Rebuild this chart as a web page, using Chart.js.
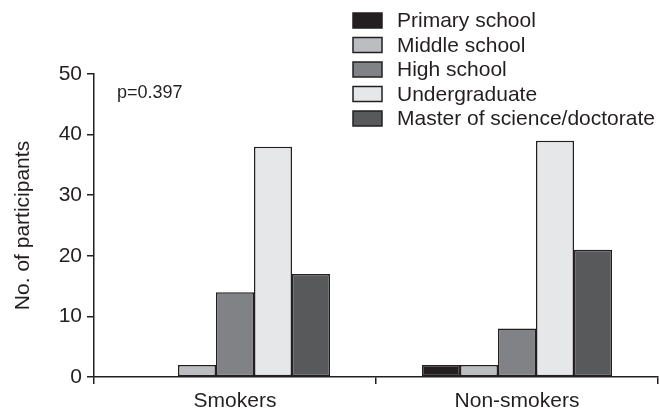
<!DOCTYPE html>
<html>
<head>
<meta charset="utf-8">
<script src="https://cdn.jsdelivr.net/npm/chart.js@4/dist/chart.umd.min.js"></script>
<style>
  html, body { margin: 0; padding: 0; background: #fff; }
  #wrap { width: 659px; height: 409px; }
</style>
</head>
<body>
<div id="wrap"><canvas id="c" width="659" height="409"></canvas></div>
<script>
const groups = ['Smokers', 'Non-smokers'];
const levels = ['Primary school', 'Middle school', 'High school', 'Undergraduate', 'Master of science/doctorate'];
const primarySchool = [0, 2];
const middleSchool = [2, 2];
const highSchool = [14, 8];
const undergraduate = [38, 39];
const masterDoctorate = [17, 21];
const yTicks = [0, 10, 20, 30, 40, 50];
const pLabel = 'p=0.397';

const fills = ['#231f20', '#bcbdc0', '#808285', '#e6e7e8', '#58595b'];
const ink = '#231f20';
const FONT = '"Liberation Sans", Arial, Helvetica, sans-serif';
const series = [primarySchool, middleSchool, highSchool, undergraduate, masterDoctorate];

// Legend drawn in the upper right corner, overlapping the plot area
const cornerLegend = {
  id: 'cornerLegend',
  afterDraw(chart) {
    const ctx = chart.ctx;
    ctx.save();
    ctx.font = '21px ' + FONT;
    ctx.textBaseline = 'middle';
    chart.data.datasets.forEach((ds, i) => {
      const cy = 20.5 + i * 24.5;
      ctx.fillStyle = ds.backgroundColor;
      ctx.fillRect(353, cy - 7.5, 29, 15);
      ctx.strokeStyle = ink;
      ctx.lineWidth = 1.5;
      ctx.strokeRect(353, cy - 7.5, 29, 15);
      ctx.fillStyle = ink;
      ctx.fillText(ds.label, 397, cy + 1);
    });
    // significance note
    ctx.font = '18px ' + FONT;
    ctx.fillText(pLabel, 117, 93);
    ctx.restore();
  }
};

new Chart(document.getElementById('c'), {
  type: 'bar',
  data: {
    labels: groups,
    datasets: levels.map((lv, i) => ({
      label: lv,
      data: series[i],
      backgroundColor: fills[i],
      borderColor: ink,
      borderWidth: 1.5,
      borderSkipped: false,
      barPercentage: 1.0,
      categoryPercentage: 0.674
    }))
  },
  options: {
    responsive: false,
    animation: false,
    devicePixelRatio: 1,
    layout: { padding: { top: 74, right: 1, left: 0, bottom: 0 } },
    plugins: {
      legend: { display: false },
      tooltip: { enabled: false }
    },
    scales: {
      x: {
        afterFit(scale) { scale.height = 32; },
        grid: { display: true, drawOnChartArea: false, drawTicks: true, tickLength: 7, color: ink, lineWidth: 1.5, offset: true },
        border: { display: true, color: ink, width: 1.5 },
        ticks: { color: ink, font: { family: FONT, size: 21 }, padding: 5 }
      },
      y: {
        min: 0,
        max: 50,
        afterFit(scale) { scale.width = 94; },
        afterBuildTicks(scale) { scale.ticks = yTicks.map(v => ({ value: v })); },
        grid: { display: true, drawOnChartArea: false, drawTicks: true, tickLength: 7, color: ink, lineWidth: 1.5 },
        border: { display: true, color: ink, width: 1.5 },
        ticks: { color: ink, font: { family: FONT, size: 21 }, padding: 5 },
        title: { display: true, text: 'No. of participants', color: ink, font: { family: FONT, size: 21 }, padding: { top: 11, bottom: 0 } }
      }
    }
  },
  plugins: [cornerLegend]
});
</script>
</body>
</html>
